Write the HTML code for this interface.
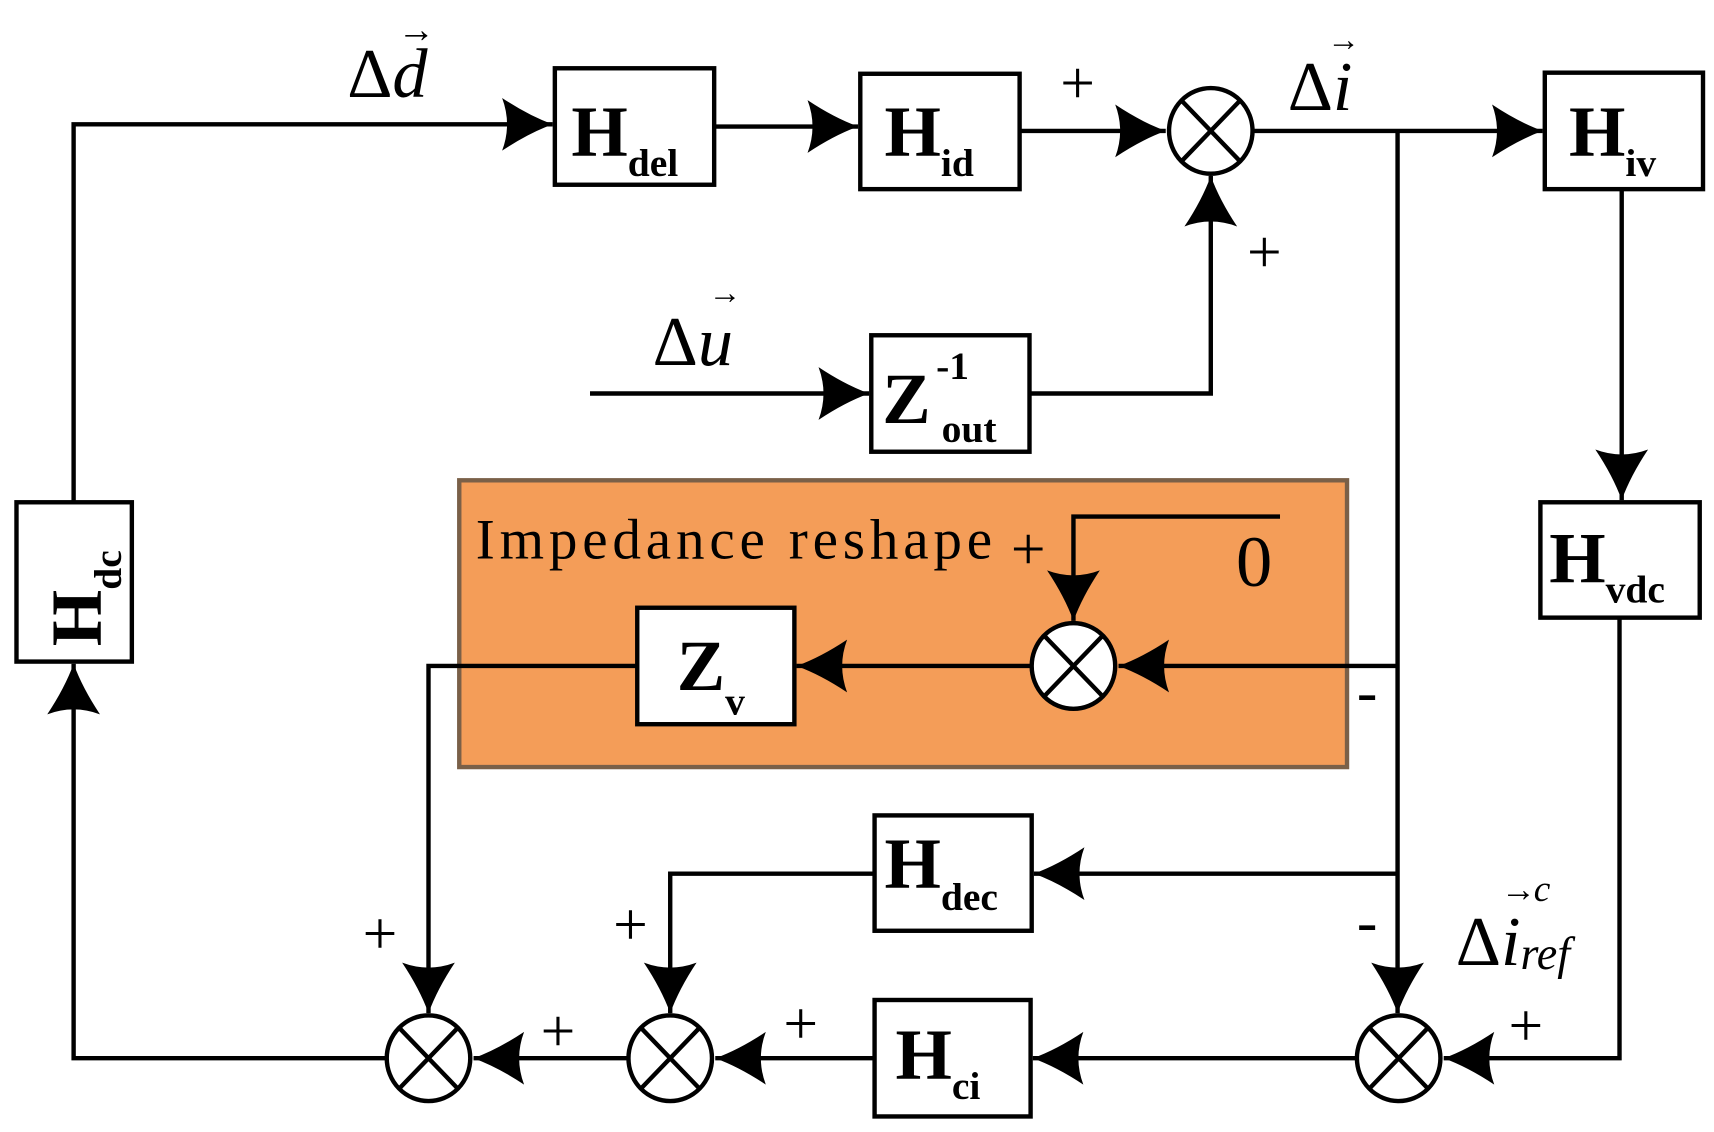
<!DOCTYPE html>
<html><head><meta charset="utf-8"><style>
html,body{margin:0;padding:0;background:#fff;}
svg{display:block}
text{font-family:"Liberation Serif",serif;fill:#000}
.b{font-weight:bold}
</style></head><body>
<svg width="1714" height="1132" viewBox="0 0 1560 1030" xmlns="http://www.w3.org/2000/svg">
<defs>
<marker id="a" markerUnits="userSpaceOnUse" markerWidth="60" markerHeight="60" refX="0" refY="0" viewBox="-50 -30 60 60" orient="auto" overflow="visible">
<path d="M0,0 Q-22,-8 -46,-24 Q-37,0 -46,24 Q-22,8 0,0 Z" fill="#000"/>
</marker>
</defs>
<rect x="418" y="437" width="808" height="261" fill="#F49D58" stroke="#7a6048" stroke-width="4"/>
<g fill="#fff" stroke="#000" stroke-width="4">
<rect x="505" y="62" width="145" height="106"/>
<rect x="783" y="67" width="145" height="105"/>
<rect x="1406" y="66" width="144" height="106"/>
<rect x="793" y="305" width="144" height="106"/>
<rect x="580" y="553" width="143" height="106"/>
<rect x="15" y="457" width="105" height="145"/>
<rect x="1402" y="457" width="145" height="105"/>
<rect x="796" y="742" width="143" height="105"/>
<rect x="796" y="910" width="142" height="106"/>
</g>
<g fill="none" stroke="#000" stroke-width="4">
<path d="M67,457 V113 H503" marker-end="url(#a)"/>
<path d="M650,115 H781" marker-end="url(#a)"/>
<path d="M928,119 H1061" marker-end="url(#a)"/>
<path d="M1141,119 H1404" marker-end="url(#a)"/>
<path d="M1272,119 V922" marker-end="url(#a)"/>
<path d="M1272,606 H1018" marker-end="url(#a)"/>
<path d="M1272,795 H941" marker-end="url(#a)"/>
<path d="M1476,172 V455" marker-end="url(#a)"/>
<path d="M1474,562 V963 H1314" marker-end="url(#a)"/>
<path d="M1234,963 H940" marker-end="url(#a)"/>
<path d="M796,963 H651" marker-end="url(#a)"/>
<path d="M571,963 H431" marker-end="url(#a)"/>
<path d="M351,963 H67 V604" marker-end="url(#a)"/>
<path d="M796,795 H610 V922" marker-end="url(#a)"/>
<path d="M580,606 H390 V922" marker-end="url(#a)"/>
<path d="M938,606 H725" marker-end="url(#a)"/>
<path d="M1165,470 H977 V565" marker-end="url(#a)"/>
<path d="M537,358 H791" marker-end="url(#a)"/>
<path d="M937,358 H1102 V160" marker-end="url(#a)"/>
</g>
<g fill="#fff" stroke="#000" stroke-width="4">
<ellipse cx="1102" cy="119" rx="38" ry="39"/>
<ellipse cx="977" cy="606" rx="38" ry="39"/>
<ellipse cx="390" cy="963" rx="38" ry="39"/>
<ellipse cx="610" cy="963" rx="38" ry="39"/>
<ellipse cx="1273" cy="963" rx="38" ry="39"/>
</g>
<g stroke="#000" stroke-width="4">
<path d="M1075,91 L1129,147 M1129,91 L1075,147"/>
<path d="M950,578 L1004,634 M1004,578 L950,634"/>
<path d="M363,935 L417,991 M417,935 L363,991"/>
<path d="M583,935 L637,991 M637,935 L583,991"/>
<path d="M1246,935 L1300,991 M1300,935 L1246,991"/>
</g>
<g class="b">
<text x="520" y="142" font-size="66" class="b">H<tspan font-size="36" dy="18">del</tspan></text>
<text x="805" y="142" font-size="66" class="b">H<tspan font-size="36" dy="18">id</tspan></text>
<text x="1428" y="142" font-size="66" class="b">H<tspan font-size="36" dy="18">iv</tspan></text>
<text x="1410" y="530" font-size="66" class="b">H<tspan font-size="36" dy="18">vdc</tspan></text>
<text x="805" y="808" font-size="66" class="b">H<tspan font-size="36" dy="20">dec</tspan></text>
<text x="815" y="982" font-size="66" class="b">H<tspan font-size="36" dy="18">ci</tspan></text>
<text x="616" y="628" font-size="66" class="b">Z<tspan font-size="36" dy="22">v</tspan></text>
<text x="803" y="385" font-size="66" class="b">Z</text>
<text x="852" y="345" font-size="36" class="b">-1</text>
<text x="857" y="402" font-size="36" class="b">out</text>
<text transform="translate(92,588) rotate(-90)" font-size="66" class="b">H<tspan font-size="36" dy="18">dc</tspan></text>
</g>
<text x="433" y="508" font-size="52" textLength="470" lengthAdjust="spacing">Impedance reshape</text>
<text x="1125" y="533" font-size="66">0</text>
<g font-size="56">
<text x="965" y="94">+</text>
<text x="1135" y="248">+</text>
<text x="920" y="518">+</text>
<text x="330" y="868">+</text>
<text x="558" y="860">+</text>
<text x="492" y="957">+</text>
<text x="713" y="950">+</text>
<text x="1373" y="952">+</text>
<text x="1235" y="648">-</text>
<text x="1235" y="857">-</text>
</g>
<text x="316" y="88" font-size="64">Δ<tspan font-style="italic">d</tspan></text>
<text x="362" y="38" font-size="34">→</text>
<text x="1172" y="100" font-size="64">Δ<tspan font-style="italic">i</tspan></text>
<text x="1208" y="46" font-size="30">→</text>
<text x="594" y="332" font-size="64">Δ<tspan font-style="italic">u</tspan></text>
<text x="645" y="276" font-size="30">→</text>
<text x="1325" y="878" font-size="64">Δ<tspan font-style="italic">i</tspan><tspan font-style="italic" font-size="42" dy="4">ref</tspan></text>
<text x="1366" y="820" font-size="32">→</text>
<text x="1396" y="820" font-size="34" font-style="italic">c</text>
</svg>
</body></html>
